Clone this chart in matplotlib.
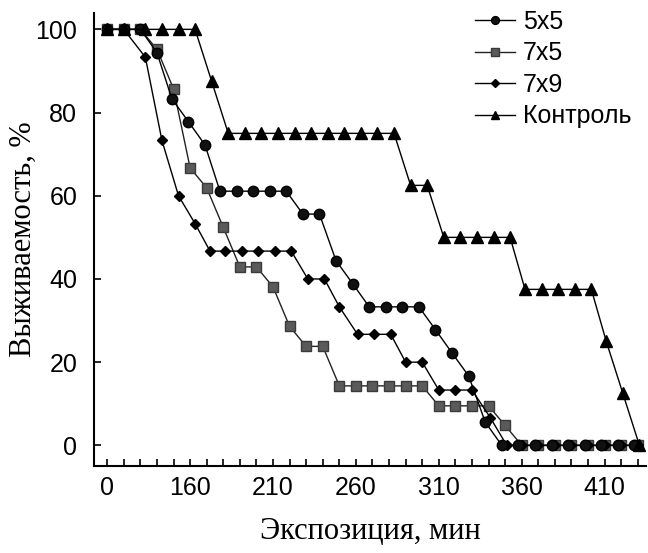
import matplotlib
matplotlib.use('Agg')
import matplotlib.pyplot as plt

# time points (min) and survival (%)
x_5x5 = [110, 120, 130, 140, 149, 159, 169, 178, 188, 198, 208, 218, 228, 238, 248, 258, 268,
         278, 288, 298, 308, 318, 328, 338, 348, 358, 368, 378, 388, 398, 408, 418, 428]
y_5x5 = [100, 100, 100, 94.4, 83.3, 77.8, 72.2, 61.1, 61.1, 61.1, 61.1, 61.1, 55.6, 55.6, 44.4,
         38.9, 33.3, 33.3, 33.3, 33.3, 27.8, 22.2, 16.7, 5.6, 0, 0, 0, 0, 0, 0, 0, 0, 0]

x_7x5 = [110, 120, 130, 140, 150, 160, 170, 180, 190, 200, 210, 220, 230, 240, 250, 260, 270,
         280, 290, 300, 310, 320, 330, 340, 350, 360, 370, 380, 390, 400, 410, 420, 430]
y_7x5 = [100, 100, 100, 95.2, 85.7, 66.7, 61.9, 52.4, 42.9, 42.9, 38.1, 28.6, 23.8, 23.8,
         14.3, 14.3, 14.3, 14.3, 14.3, 14.3, 9.5, 9.5, 9.5, 9.5, 4.8, 0, 0, 0, 0, 0, 0, 0, 0]

x_7x9 = [110, 120, 133, 143, 153, 163, 172, 181, 191, 201, 211, 221, 231, 241, 250, 261, 271,
         281, 290, 300, 310, 320, 330, 341, 351, 360, 370, 380, 390, 400, 410, 420, 430]
y_7x9 = [100, 100, 93.3, 73.3, 60, 53.3, 46.7, 46.7, 46.7, 46.7, 46.7, 46.7, 40, 40, 33.3,
         26.7, 26.7, 26.7, 20, 20, 13.3, 13.3, 13.3, 6.7, 0, 0, 0, 0, 0, 0, 0, 0, 0]

x_ctrl = [110, 120, 133, 143, 153, 163, 173, 183, 193, 203, 213, 223, 233, 243, 253, 263, 273,
          283, 293, 303, 313, 323, 333, 343, 353, 362, 372, 382, 392, 402, 411, 421, 431]
y_ctrl = [100, 100, 100, 100, 100, 100, 87.5, 75, 75, 75, 75, 75, 75, 75, 75, 75, 75,
          75, 62.5, 62.5, 50, 50, 50, 50, 50, 37.5, 37.5, 37.5, 37.5, 37.5, 25, 12.5, 0]

xticks = [110, 160, 210, 260, 310, 360, 410]
xtick_labels = ['0', '160', '210', '260', '310', '360', '410']
yticks = [0, 20, 40, 60, 80, 100]

plt.rcParams['font.family'] = ['Liberation Sans', 'DejaVu Sans']

fig = plt.figure(figsize=(6.48, 5.53), dpi=100)
ax = fig.add_axes([0.145, 0.157, 0.852, 0.82])

ax.plot(x_7x5, y_7x5, color='#222222', lw=1.0, marker='s', ms=7.5,
        mfc='#5a5a5a', mec='#3a3a3a', label='7x5')
ax.plot(x_7x9, y_7x9, color='black', lw=1.0, marker='D', ms=5,
        mfc='black', mec='black', label='7x9')
ax.plot(x_5x5, y_5x5, color='black', lw=1.0, marker='o', ms=7.5,
        mfc='#111111', mec='black', label='5x5')
ax.plot(x_ctrl, y_ctrl, color='black', lw=1.0, marker='^', ms=8,
        mfc='black', mec='black', label='Контроль')

ax.set_xlim(102, 435)
ax.set_ylim(-5, 104)
ax.set_xticks(xticks)
ax.set_xticklabels(xtick_labels)
ax.set_xticks(range(110, 431, 10), minor=True)
ax.set_yticks(yticks)
ax.tick_params(axis='both', direction='in', length=5, width=1.2, labelsize=18, pad=7)
ax.tick_params(axis='x', which='minor', direction='in', length=5, width=1.2)
ax.tick_params(axis='y', pad=12)

for s in ['top', 'right']:
    ax.spines[s].set_visible(False)
for s in ['left', 'bottom']:
    ax.spines[s].set_linewidth(1.5)

ax.set_xlabel('Экспозиция, мин', family=['Liberation Serif', 'DejaVu Serif'], fontsize=22, labelpad=12)
ax.set_ylabel('Выживаемость, %', family=['Liberation Serif', 'DejaVu Serif'], fontsize=22)
ax.yaxis.set_label_coords(-0.102, 0.5)

h, l = ax.get_legend_handles_labels()
order = [2, 0, 1, 3]
ax.legend([h[i] for i in order], [l[i] for i in order], loc='upper left',
          bbox_to_anchor=(465 / 648, 1.0), bbox_transform=fig.transFigure,
          frameon=False, fontsize=18, handlelength=1.6, labelspacing=0.3,
          handletextpad=0.32, borderpad=0.2, borderaxespad=0.2, markerscale=0.75)

fig.savefig('out.png', dpi=100)
